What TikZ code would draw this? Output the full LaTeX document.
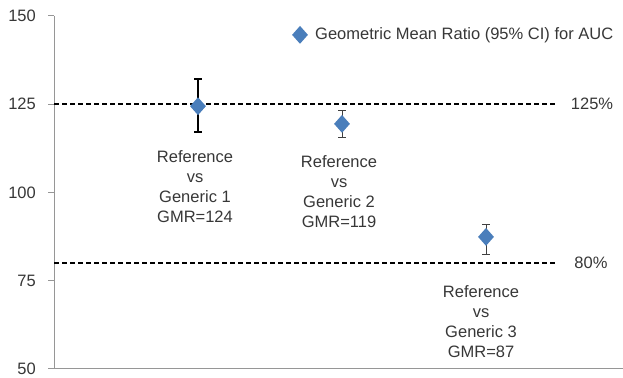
\documentclass[tikz,border=0pt]{standalone}
\usepackage{fontspec}
\setmainfont{Liberation Sans}
\usetikzlibrary{shapes.geometric}
\definecolor{gmrblue}{RGB}{74,126,187}
\definecolor{axisgrey}{RGB}{150,150,150}
\definecolor{textgrey}{RGB}{55,55,55}
\tikzset{
  gmr/.style={diamond, fill=gmrblue, draw=none, inner sep=0pt, minimum width=16bp, minimum height=18bp},
  lbl/.style={align=center, anchor=north, inner sep=0pt, text=textgrey, font=\fontsize{16.5bp}{20bp}\selectfont},
  txt/.style={inner sep=0pt, text=textgrey, font=\fontsize{16.5bp}{20bp}\selectfont},
  limit/.style={dash pattern=on 5bp off 3bp, line width=1.4bp},
  ci/.style={line width=1bp, black!75},
}

\begin{document}
\begin{tikzpicture}[x=1bp, y=3.532bp]
		\useasboundingbox (0,47.45) rectangle (623,154.47);
		% axes
		\draw[axisgrey, line width=1bp] (54,150) -- (54,50) -- (623,50);
		\draw[axisgrey, line width=1bp] (48,150) -- (54,150) (48,125) -- (54,125) (48,100) -- (54,100) (48,75) -- (54,75) (48,50) -- (54,50);
		\node[txt, anchor=east] (t150) at (36,150) {150};
		\node[txt, anchor=east] (t125) at (36,125) {125};
		\node[txt, anchor=east] (t100) at (36,100) {100};
		\node[txt, anchor=east] (t75) at (36,75) {75};
		\node[txt, anchor=east] (t50) at (36,50) {50};
		% limits
		\draw[limit] (54,125) -- (557,125);
		\draw[limit] (54,80) -- (557,80);
		\node[txt] (hi) at (592,125) {125\%};
		\node[txt] (lo) at (591,80) {80\%};
		% confidence intervals
		\draw[line width=1.3bp, black] (198,117.1) -- (198,132.1) (194,117.1) -- (202,117.1) (194,132.1) -- (202,132.1);
		\draw[ci] (342,115.4) -- (342,123.3) (338,115.4) -- (346,115.4) (338,123.3) -- (346,123.3);
		\draw[ci] (486,82.3) -- (486,91) (482,82.3) -- (490,82.3) (482,91) -- (490,91);
		% points
		\node[gmr] (g1) at (198,124.4) {};
		\node[gmr] (g2) at (342,119.4) {};
		\node[gmr] (g3) at (486,87.4) {};
		\node[lbl] (lab1) at (195,112.0) {Reference\\vs\\Generic 1\\GMR=124};
		\node[lbl] (lab2) at (339,110.6) {Reference\\vs\\Generic 2\\GMR=119};
		\node[lbl] (lab3) at (481,73.8) {Reference\\vs\\Generic 3\\GMR=87};
		% legend
		\node[gmr] (leg) at (300,144.6) {};
		\node[txt, anchor=west] (legtxt) at (315,144.6) {Geometric Mean Ratio (95\% CI) for AUC};
	\end{tikzpicture}
\end{document}
